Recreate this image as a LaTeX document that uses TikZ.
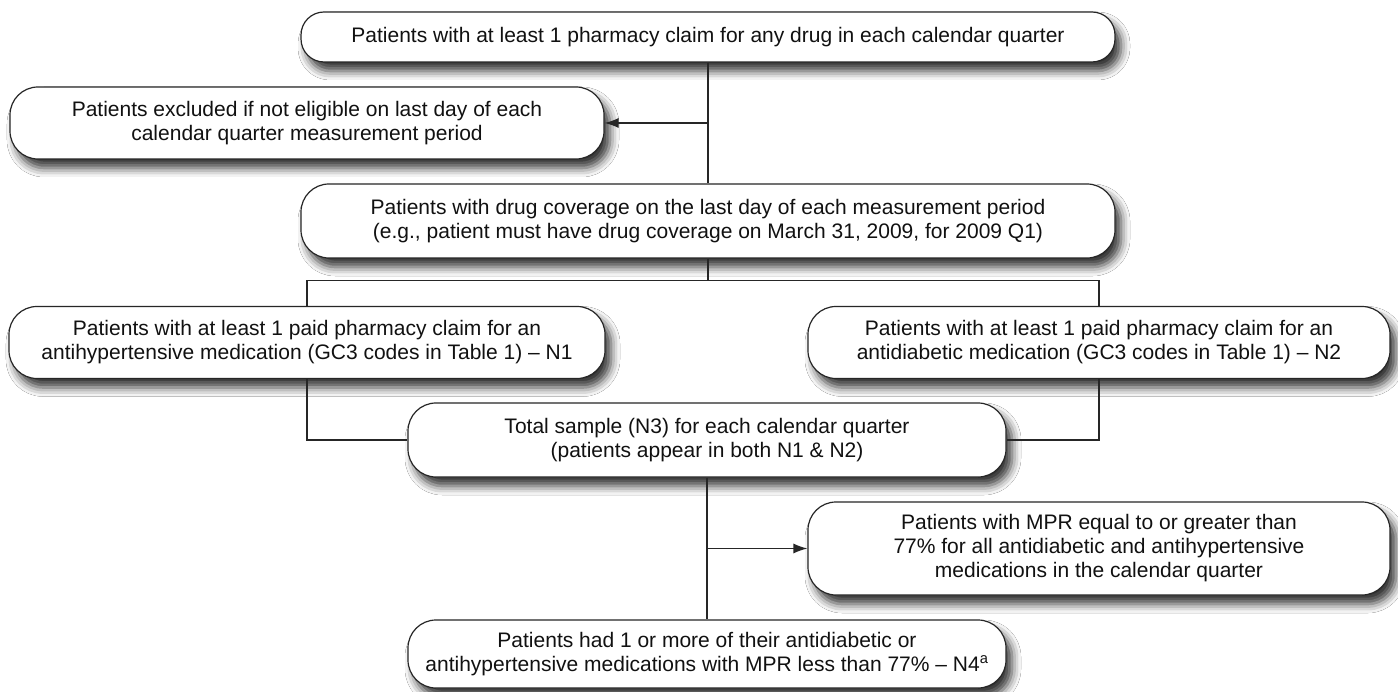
\documentclass[tikz,border=0pt]{standalone}
\usepackage{fontspec}
\setmainfont{Liberation Sans}
\usetikzlibrary{arrows.meta,shadows.blur}
\definecolor{linegray}{HTML}{262626}
\definecolor{txt}{HTML}{111111}
\begin{document}
\begin{tikzpicture}[x=1pt,y=1pt,
  flowbox/.style={draw=linegray, line width=1.2pt, fill=white, rounded corners=28pt,
    align=center, text=txt, inner sep=0pt,
    font=\fontsize{21pt}{24pt}\selectfont,
    blur shadow={shadow xshift=6pt, shadow yshift=-9pt, shadow blur radius=9pt, shadow opacity=80}},
  conn/.style={draw=linegray, line width=1.2pt},
  arr/.style={conn, -{Latex[length=14pt,width=10pt]}}]
\fill[white] (0,0) rectangle (1398,-692);
\useasboundingbox (0,0) rectangle (1398,-692);

\node[flowbox, rounded corners=23pt, minimum width=814pt, minimum height=50pt] (b1) at (708,-37)
  {Patients with at least 1 pharmacy claim for any drug in each calendar quarter};
\node[flowbox, minimum width=594pt, minimum height=72pt] (b2) at (307,-123)
  {Patients excluded if not eligible on last day of each\\calendar quarter measurement period};
\node[flowbox, minimum width=814pt, minimum height=74pt] (b3) at (708,-221)
  {Patients with drug coverage on the last day of each measurement period\\(e.g., patient must have drug coverage on March 31, 2009, for 2009 Q1)};
\node[flowbox, minimum width=596pt, minimum height=72pt] (b4) at (307,-342.5)
  {Patients with at least 1 paid pharmacy claim for an\\antihypertensive medication (GC3 codes in Table 1) -- N1};
\node[flowbox, minimum width=582pt, minimum height=72pt] (b5) at (1099,-342.5)
  {Patients with at least 1 paid pharmacy claim for an\\antidiabetic medication (GC3 codes in Table 1) -- N2};
\node[flowbox, minimum width=598pt, minimum height=74pt] (b6) at (707,-440)
  {Total sample (N3) for each calendar quarter\\(patients appear in both N1 \& N2)};
\node[flowbox, minimum width=582pt, minimum height=93pt] (b7) at (1099,-548.5)
  {Patients with MPR equal to or greater than\\77\% for all antidiabetic and antihypertensive\\medications in the calendar quarter};
\node[flowbox, minimum width=598pt, minimum height=68pt] (b8) at (707,-654)
  {Patients had 1 or more of their antidiabetic or\\antihypertensive medications with MPR less than 77\% -- N4\textsuperscript{a}};

\coordinate (j) at ([yshift=-22pt]b3.south);
\draw[conn] (b1.south) -- (b3.north);
\draw[arr] (b1.south |- b2.east) -- (b2.east);
\draw[conn] (b3.south) -- (j);
\draw[conn] (b4.north) |- (j) -| (b5.north);
\draw[conn] (b4.south) |- (b6.west);
\draw[conn] (b5.south) |- (b6.east);
\draw[conn] (b6.south) -- (b8.north);
\draw[arr] (b6.south |- b7.west) -- (b7.west);
\end{tikzpicture}
\end{document}
